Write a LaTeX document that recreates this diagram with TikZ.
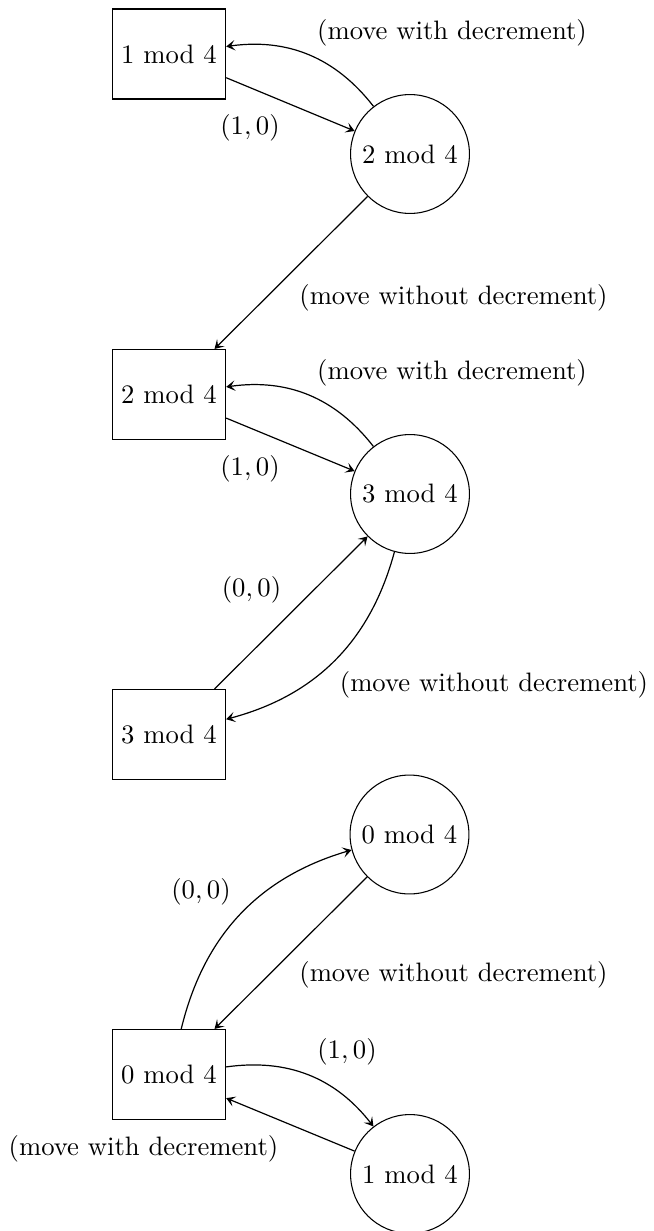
\documentclass[tikz,border=0pt]{standalone}
\usetikzlibrary{arrows.meta}
\begin{document}
\begin{tikzpicture}[x=0.375pt,y=-0.375pt,
  boxstate/.style={draw,rectangle,minimum height=33.75pt},
  roundstate/.style={draw,circle},
  lbl/.style={inner sep=0pt},
  >={Stealth[length=3.3pt,width=3.9pt,inset=1.5pt]}]
\useasboundingbox (0,0) rectangle (653,1231);

% player boxes and opponent circles
\node[boxstate]   (b1) at (169,54) {1 mod 4};
\node[roundstate] (c2) at (410,154) {2 mod 4};
\node[boxstate]   (b2) at (169,394.5) {2 mod 4};
\node[roundstate] (c3) at (410,494) {3 mod 4};
\node[boxstate]   (b3) at (169,734.5) {3 mod 4};
\node[roundstate] (c0) at (409.5,834.5) {0 mod 4};
\node[boxstate]   (b4) at (169,1074.5) {0 mod 4};
\node[roundstate] (c1) at (410,1174) {1 mod 4};

% transitions
\begin{scope}[line width=0.45pt]
\draw[->] (b1) -- (c2);
\draw[->] (c2) to[bend right] (b1);
\draw[->] (c2.225) -- (b2.45);
\draw[->] (b2) -- (c3);
\draw[->] (c3) to[bend right] (b2);
\draw[->] (b3.45) -- (c3.225);
\draw[->] (c3) to[bend left] (b3);
\draw[->] (b4) to[bend left] (c0);
\draw[->] (c0.225) -- (b4.45);
\draw[->] (b4) to[bend left] (c1);
\draw[->] (c1) -- (b4);
\end{scope}

% transition labels
\node[lbl] (l1)  at (452,33)    {(move with decrement)};
\node[lbl] (l2)  at (250,128)   {$(1,0)$};
\node[lbl] (l3)  at (453.5,298) {(move without decrement)};
\node[lbl] (l4)  at (452,372.5) {(move with decrement)};
\node[lbl] (l5)  at (250,468.5) {$(1,0)$};
\node[lbl] (l6)  at (251.5,590) {$(0,0)$};
\node[lbl] (l7)  at (494,685)   {(move without decrement)};
\node[lbl] (l8)  at (201,892)   {$(0,0)$};
\node[lbl] (l9)  at (453.5,975) {(move without decrement)};
\node[lbl] (l10) at (347,1052)  {$(1,0)$};
\node[lbl] (l11) at (143.5,1149) {(move with decrement)};
\end{tikzpicture}
\end{document}
